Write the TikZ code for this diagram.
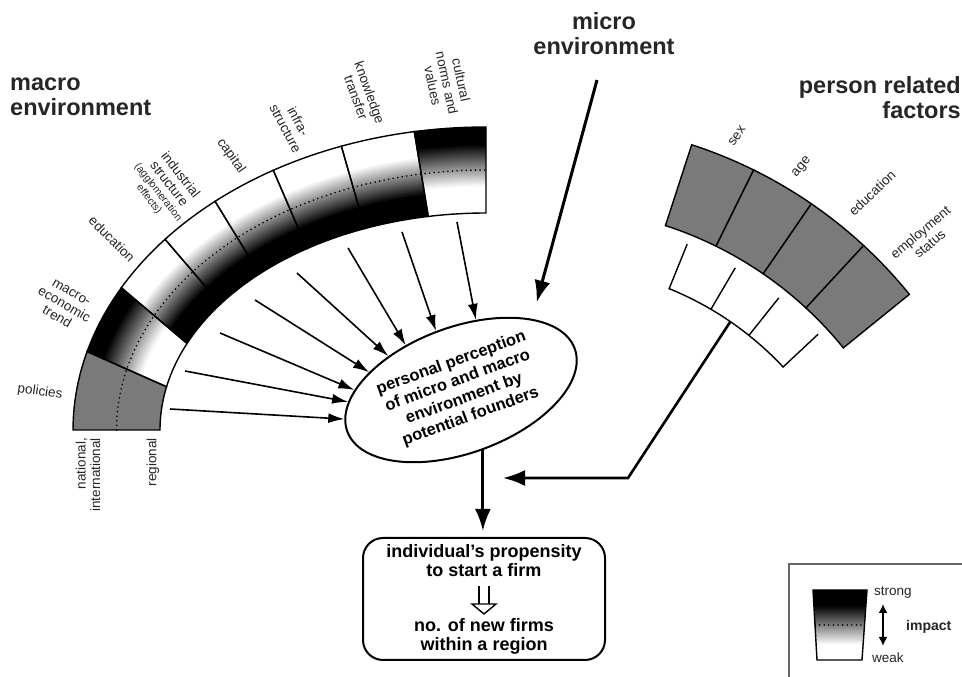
\documentclass[tikz,border=0pt]{standalone}
\usepackage{fontspec}
\setmainfont{Liberation Sans}
\usetikzlibrary{arrows.meta,positioning,calc,shapes.geometric}
\pgfdeclareverticalshading{legendshade}{100bp}{color(0bp)=(white); color(36bp)=(white); color(64bp)=(black); color(100bp)=(black)}
\tikzset{
  segline/.style={draw=black,line width=1.4pt},
  graybox/.style={segline,fill=black!52},
  dotline/.style={line width=1.8pt,line cap=round,dash pattern=on 0pt off 4.6pt},
  lbl/.style={font=\fontsize{13.5}{14.5}\selectfont,text=black!85,align=center,inner sep=1pt},
  titletext/.style={font=\fontsize{23.5}{25}\selectfont\bfseries,text=black!85,inner sep=0pt},
  thinarrow/.style={-{Latex[length=16pt,width=10pt]},line width=1.6pt},
  bigarrow/.style={-{Latex[length=22pt,width=16pt]},line width=3pt},
  perceptionnode/.style={ellipse,draw,line width=2pt,minimum width=242pt,minimum height=126pt,
    inner sep=0pt,rotate=20,align=center,font=\fontsize{16.5}{19}\selectfont\bfseries},
  resultbox/.style={draw,rounded corners=20pt,line width=2pt,minimum width=242pt,minimum height=122pt,
    align=center,font=\fontsize{18}{19}\selectfont\bfseries}
}

\begin{document}
\begin{tikzpicture}[x=1pt,y=1pt,
  declare function={ringx(\t,\f)=486+(326+87*\f)*cos(\t); ringy(\t,\f)=247+(217+86*\f)*sin(\t);}]
  \fill[white] (0,0) rectangle (962,677);
  \useasboundingbox (0,0) rectangle (962,677);

  % macro environment ring
  \fill[black!52] plot[domain=180:165,samples=12] ({ringx(\x,1)},{ringy(\x,1)})
    -- plot[domain=168.5:180,samples=12] ({ringx(\x,0)},{ringy(\x,0)}) -- cycle;
  \foreach \ta/\tb/\tc/\td/\lo/\hi in {165/152/156.5/168.5/0.31/0.8, 152/141/144.5/156.5/0.7/0.25,
      141/131/134/144.5/0.7/0.25, 131/121/123.3/134/0.7/0.25, 121/110.5/111.8/123.3/0.7/0.25,
      110.5/100/100.2/111.8/0.7/0.25, 100/90/90/100.2/0.31/0.8}{
    \begin{scope}
      \clip plot[domain=\ta:\tb,samples=12] ({ringx(\x,1)},{ringy(\x,1)})
        -- plot[domain=\tc:\td,samples=12] ({ringx(\x,0)},{ringy(\x,0)}) -- cycle;
      \foreach \i in {0,...,40}{
        \pgfmathsetmacro\lv{max(0,min(100,100*(\i/40-\lo)/(\hi-\lo)))}
        \draw[black!\lv,line width=2.8pt] (486,247) ellipse [x radius={326+87*\i/40},y radius={217+86*\i/40}];
      }
    \end{scope}
  }
  \draw[dotline] plot[domain=180:90,samples=60] ({ringx(\x,0.5)},{ringy(\x,0.5)});
  \foreach \ta/\tb/\tc/\td in {180/165/168.5/180, 165/152/156.5/168.5, 152/141/144.5/156.5,
      141/131/134/144.5, 131/121/123.3/134, 121/110.5/111.8/123.3, 110.5/100/100.2/111.8, 100/90/90/100.2}
    \draw[segline] plot[domain=\ta:\tb,samples=12] ({ringx(\x,1)},{ringy(\x,1)})
      -- plot[domain=\tc:\td,samples=12] ({ringx(\x,0)},{ringy(\x,0)}) -- cycle;

  % person related ring and bracket
  \begin{scope}[shift={(548,90)}]
    \foreach \a/\b in {72/63.75, 63.75/55.5, 55.5/47.25, 47.25/39}
      \draw[graybox] (\a:380) -- (\a:465) arc[start angle=\a,end angle=\b,radius=465]
        -- (\b:380) arc[start angle=\b,end angle=\a,radius=380] -- cycle;
    \draw[line width=1.4pt] (67.9:370) -- (67.9:322) arc[start angle=67.9,end angle=43.1,radius=322] -- (43.1:370);
    \draw[line width=1.4pt] (59.6:322) -- (59.6:370) (51.4:322) -- (51.4:370);
    \coordinate (personjoin) at (55.5:322);
  \end{scope}

  % titles
  \node[titletext,align=left,anchor=west] (macrotitle) at (10,580) {macro\\environment};
  \node[titletext,align=center] (microtitle) at (604,643) {micro\\environment};
  \node[titletext,align=right,anchor=east] (persontitle) at (961,579) {person related\\factors};

  % ring labels
  \node[lbl,rotate=-8] (lblpolicies) at (40,285) {policies};
  \node[lbl,rotate=-30] (lbltrend) at (64,372) {macro-\\economic\\trend};
  \node[lbl,rotate=-45] (lbleducation) at (112,438) {education};
  \node[lbl,rotate=-52] (lblindustry) at (165,490) {industrial\\structure\\[-2pt]
    {\fontsize{10.5}{11}\selectfont (agglomeration}\\[-3pt]{\fontsize{10.5}{11}\selectfont effects)}};
  \node[lbl,rotate=-55] (lblcapital) at (231,521) {capital};
  \node[lbl,rotate=-62] (lblinfra) at (292,552) {infra-\\structure};
  \node[lbl,rotate=-70] (lblknowledge) at (363,582) {knowledge\\transfer};
  \node[lbl,rotate=-78] (lblculture) at (447,594) {cultural\\norms and\\values};
  \node[lbl,rotate=90,anchor=east,align=right] (lblnational) at (88,240) {national,\\international};
  \node[lbl,rotate=90,anchor=east] (lblregional) at (153,240) {regional};
  \node[lbl,rotate=55] (lblsex) at (737,541) {sex};
  \node[lbl,rotate=50] (lblage) at (802,510) {age};
  \node[lbl,rotate=44] (lbledu) at (872,484) {education};
  \node[lbl,rotate=40] (lblemployment) at (925,439) {employment\\status};

  % perception and result
  \node[perceptionnode] (perception) at (461,287) {personal perception\\of micro and macro\\environment by\\potential founders};
  \node[resultbox] (result) at (484,78) {individual's propensity\\to start a firm\\[36pt]no. of new firms\\within a region};
  \begin{scope}[shift={(result.center)}]
    \draw[line width=1.4pt] (-5,13) -- (-5,-5) (5,13) -- (5,-5);
    \draw[line width=1.4pt,fill=white] (-12,-5) -- (12,-5) -- (0,-15) -- cycle;
  \end{scope}

  % connectors
  \coordinate (src1) at (170,268);
  \coordinate (src2) at (185,306);
  \coordinate (src3) at (220,344);
  \coordinate (src4) at (255,377);
  \coordinate (src5) at (297,404);
  \coordinate (src6) at (348,429);
  \coordinate (src7) at (402,445);
  \coordinate (src8) at (457,455);
  \foreach \s/\a in {1/174,2/166,3/160,4/149,5/135,6/121,7/93,8/58}
    \draw[thinarrow] (src\s) -- (perception.\a);
  \coordinate (microtail) at (597,597);
  \draw[bigarrow,shorten >=17pt] (microtail) -- (perception.25);
  \draw[bigarrow,shorten >=6pt] (perception.south) -- (perception.south |- result.north);
  \coordinate (personbend) at (628,199);
  \coordinate (personend) at (503,199);
  \draw[bigarrow,line width=2.6pt] (personjoin) -- (personbend) -- (personend);

  % legend
  \draw[black!60,line width=1.5pt] (789,0) -- (789,113) -- (962,113);
  \shade[shading=legendshade] (813,87) -- (867,87) -- (862,17) -- (817,17) -- cycle;
  \draw[segline] (813,87) -- (867,87) -- (862,17) -- (817,17) -- cycle;
  \draw[dotline] (815,52) -- (865,52);
  \node[lbl,anchor=west] (strong) at (873,84) {strong};
  \node[lbl,anchor=west] (weak) at (871,19) {weak};
  \node[lbl,anchor=west,font=\fontsize{14}{15}\selectfont\bfseries] (impact) at (905,50) {impact};
  \coordinate (legtop) at (883,73);
  \coordinate (legbottom) at (883,31);
  \draw[{Latex[length=9pt,width=9pt]}-{Latex[length=9pt,width=9pt]},line width=2pt] (legtop) -- (legbottom);
\end{tikzpicture}
\end{document}
